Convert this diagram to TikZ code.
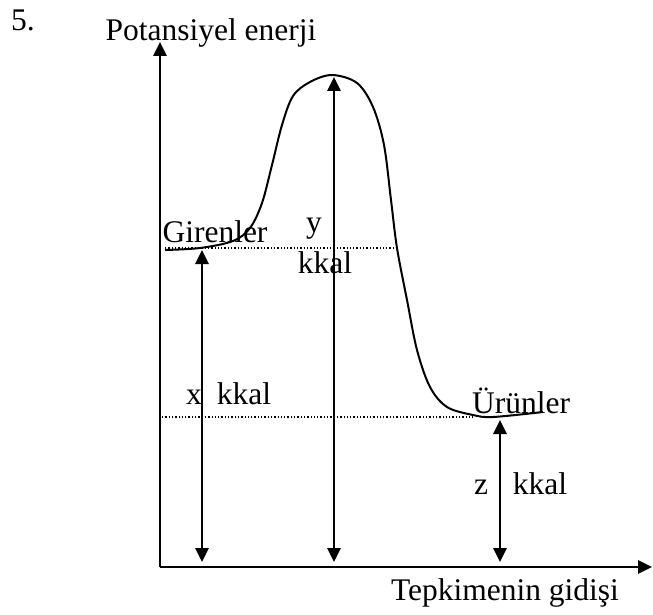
\documentclass[tikz,border=0pt]{standalone}
\usepackage{fontspec}
\setmainfont{Liberation Serif}
\usetikzlibrary{arrows.meta,positioning}
\tikzset{axis/.style={-{Triangle[length=14pt,width=13pt]},line width=2.8pt},
  level/.style={{Triangle[length=14pt,width=13pt]}-{Triangle[length=14pt,width=13pt]},line width=2.8pt},
  guide/.style={dotted,line width=1.3pt},
  curve/.style={line width=2pt},
  lab/.style={font=\fontsize{31.5}{34}\selectfont,inner sep=0pt,anchor=base}}

\begin{document}
\begin{tikzpicture}[x=1pt,y=-1pt]
\useasboundingbox (0,0) rectangle (653,615);
% axes
\coordinate (orig) at (160,567);
\coordinate (ytop) at (160,42);
\coordinate (xend) at (652,567);
\draw[axis] (orig) -- (ytop);
\draw[axis] (orig) -- (xend);
\node[lab] (num) at (23,31) {5.};
\node[lab] (ylab) at (211,41) {Potansiyel enerji};
\node[lab] (xlab) at (505,600) {Tepkimenin gidişi};
% levels
\coordinate (girL) at (165,248);
\coordinate (girR) at (397,248);
\coordinate (urL) at (162,417);
\coordinate (urR) at (473,417);
\draw[guide] (girL) -- (girR);
\draw[guide] (urL) -- (urR);
% curve
\draw[curve] plot[smooth,tension=0.55] coordinates {(165,250) (200,248) (233,241) (250,228) (262,203) (272,165) (282,125) (293,96) (310,82) (332,75) (357,83) (373,107) (384,145) (391,200) (397,248) (407,300) (417,350) (430,387) (447,407) (473,415) (493,417) (543,412)};
\node[lab] (gir) at (215,242) {Girenler};
\node[lab] (ur) at (521,413) {Ürünler};
% energy arrows
\coordinate (xa) at (202,562);
\coordinate (xb) at (202,250);
\coordinate (ya) at (334,562);
\coordinate (yb) at (334,77);
\coordinate (za) at (500,562);
\coordinate (zb) at (500,420);
\draw[level] (xa) -- (xb);
\draw[level] (ya) -- (yb);
\draw[level] (za) -- (zb);
\node[lab] (xn) at (194,404) {x};
\node[lab] (xk) at (244,404) {kkal};
\node[lab] (yn) at (314,232) {y};
\node[lab] (yk) at (325,273) {kkal};
\node[lab] (zn) at (481,494) {z};
\node[lab] (zk) at (540,494) {kkal};
\end{tikzpicture}
\end{document}
